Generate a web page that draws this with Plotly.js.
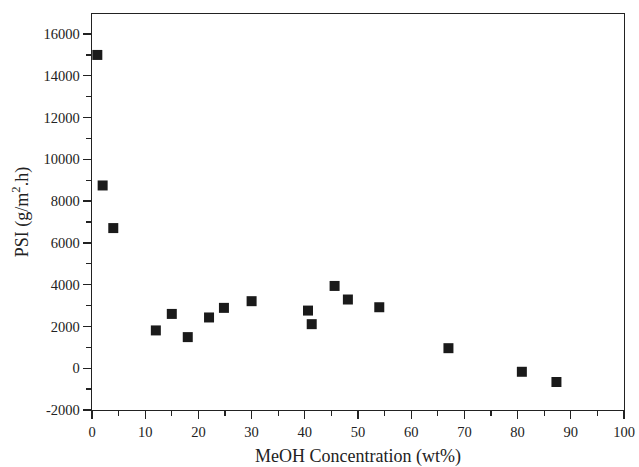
<!DOCTYPE html>
<html>
<head>
<meta charset="utf-8">
<script src="https://cdn.plot.ly/plotly-3.0.1.min.js"></script>
<style>html,body{margin:0;padding:0;background:#fff;}#chart{width:639px;height:467px;}</style>
</head>
<body>
<div id="chart"></div>
<script>
const meohConc = [1, 2, 4, 12, 15, 18, 22, 24.8, 30, 40.6, 41.3, 45.6, 48.1, 54, 67, 80.8, 87.3];
const psi = [15000, 8750, 6710, 1810, 2600, 1490, 2430, 2890, 3210, 2760, 2110, 3940, 3290, 2920, 960, -170, -660];
const xTickVals = [0, 10, 20, 30, 40, 50, 60, 70, 80, 90, 100];
const yTickVals = [-2000, 0, 2000, 4000, 6000, 8000, 10000, 12000, 14000, 16000];

const fontFam = "Liberation Serif, Times New Roman, serif";
const trace = {
  x: meohConc, y: psi, type: 'scatter', mode: 'markers',
  marker: {symbol: 'square', size: 10, color: '#1a1a1a'},
  showlegend: false
};
const axisCommon = {
  showline: true, linecolor: '#222', linewidth: 1.3, mirror: true,
  ticks: 'outside', ticklen: 8, tickwidth: 1.3, tickcolor: '#222',
  showgrid: false, zeroline: false,
  tickfont: {family: fontFam, size: 14.5, color: '#222'}
};
const layout = {
  width: 639, height: 467,
  margin: {l: 92, r: 15, t: 14, b: 57},
  paper_bgcolor: '#fff', plot_bgcolor: '#fff',
  xaxis: Object.assign({}, axisCommon, {
    range: [0, 100], tickvals: xTickVals, ticktext: xTickVals.map(String),
    minor: {ticks: 'outside', ticklen: 5, tickwidth: 1.3, tickcolor: '#222', dtick: 5, tick0: 0},
    title: {text: 'MeOH Concentration (wt%)', font: {family: fontFam, size: 18, color: '#222'}, standoff: 12}
  }),
  yaxis: Object.assign({}, axisCommon, {
    range: [-2000, 16960], tickvals: yTickVals, ticktext: yTickVals.map(String),
    minor: {ticks: 'outside', ticklen: 5, tickwidth: 1.3, tickcolor: '#222', dtick: 1000, tick0: 0},
    title: {text: 'PSI (g/m<sup>2</sup>.h)', font: {family: fontFam, size: 18, color: '#222'}, standoff: 10}
  })
};
Plotly.newPlot('chart', [trace], layout, {displayModeBar: false, staticPlot: true});
</script>
</body>
</html>
